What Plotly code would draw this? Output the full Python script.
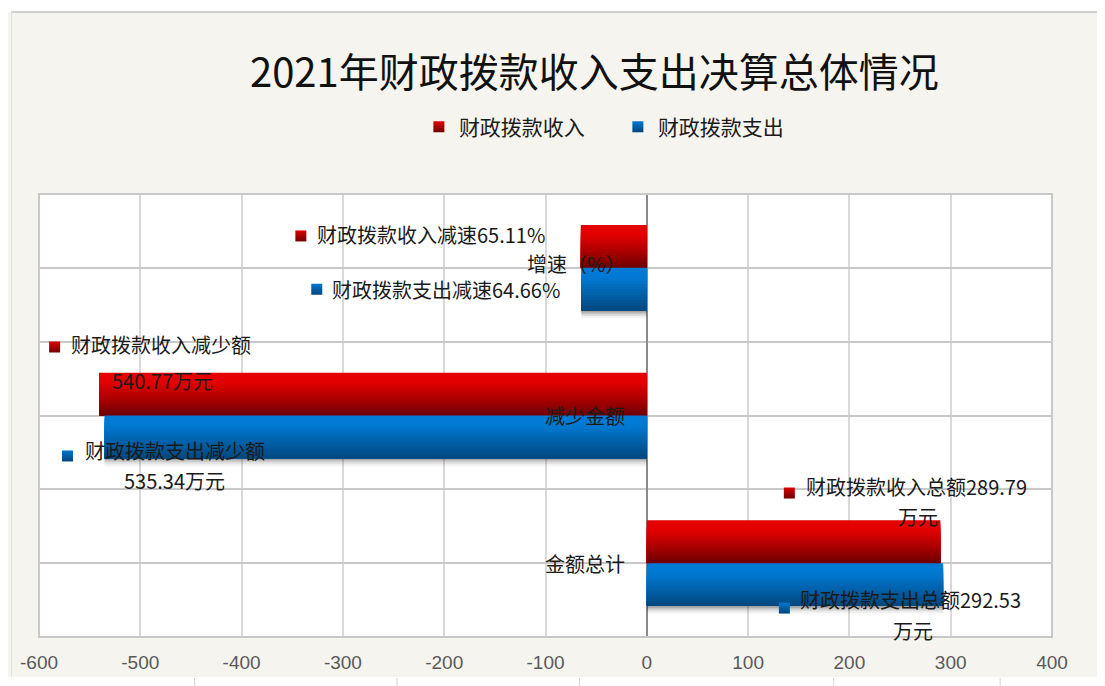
import plotly.graph_objects as go
import numpy as np

# ---------------- data ----------------
categories = ["金额总计", "减少金额", "增速（%）"]
income_values = [289.79, -540.77, -65.11]     # 财政拨款收入
expense_values = [292.53, -535.34, -64.66]    # 财政拨款支出
series_names = ["财政拨款收入", "财政拨款支出"]
income_labels = ["财政拨款收入总额289.79<br>万元", "财政拨款收入减少额<br>540.77万元", "财政拨款收入减速65.11%"]
expense_labels = ["财政拨款支出总额292.53<br>万元", "财政拨款支出减少额<br>535.34万元", "财政拨款支出减速64.66%"]
x_ticks = [-600, -500, -400, -300, -200, -100, 0, 100, 200, 300, 400]
title_text = "2021年财政拨款收入支出决算总体情况"

# ---------------- style ----------------
W, H = 1105, 686
PL, PR, PT, PB = 28, 1044, 186, 629        # plot area in figure pixels
ML, MR, MT, MB = PL, W - PR, PT, H - PB
PW, PH = PR - PL, PB - PT
BAR_H = 0.29
NSL = 16
FONT_CJK = "Noto Sans CJK SC"
BG = "#f5f4ee"

red_top, red_bot = np.array([228, 0, 0]), np.array([110, 0, 0])
blue_top, blue_bot = np.array([0, 122, 212]), np.array([0, 70, 124])

ypos = list(range(len(categories)))


def px_x(fx):
    return (fx - PL) / PW


def px_y(fy):
    return (PB - fy) / PH


def mix(c1, c2, t):
    c = c1 + (c2 - c1) * t
    return "rgb(%d,%d,%d)" % tuple(int(round(v)) for v in c)


def grad_t(k):
    return min(1.0, max(0.0, (k - 0.2) / 0.8)) ** 1.1


fig = go.Figure()

# soft shadow under the blue bars
for i, a in enumerate([0.20, 0.14, 0.09, 0.05, 0.025]):
    fig.add_trace(go.Bar(
        y=ypos, x=expense_values, orientation="h",
        offset=-BAR_H - 0.012 * (i + 1), width=0.012 * (i + 1) + 0.01,
        marker=dict(color="rgba(0,0,0,%.3f)" % (a * 0.8), line=dict(width=0)),
        showlegend=False, hoverinfo="skip"))

# gradient bars: cumulative slices (each from the bar's bottom edge up)
dh = BAR_H / NSL
for s, (vals, ctop, cbot, base_off) in enumerate([
        (income_values, red_top, red_bot, 0.0),
        (expense_values, blue_top, blue_bot, -BAR_H)]):
    for k in range(NSL):
        top = base_off + BAR_H - k * dh
        col = mix(ctop, cbot, grad_t((k + 0.5) / NSL))
        fig.add_trace(go.Bar(
            y=ypos, x=vals, orientation="h",
            offset=base_off, width=top - base_off,
            marker=dict(color=col, line=dict(width=0)),
            name=series_names[s], showlegend=False,
            hovertemplate="%{x}<extra>" + series_names[s] + "</extra>"))

# legend entries
for s, (ctop, cbot) in enumerate([(red_top, red_bot), (blue_top, blue_bot)]):
    fig.add_trace(go.Scatter(
        x=[None], y=[None], mode="markers", name=series_names[s],
        marker=dict(symbol="square", size=11, color=mix(ctop, cbot, 0),
                    gradient=dict(type="vertical", color=mix(ctop, cbot, 1)),
                    line=dict(width=0))))

# label placement (data units): marker, first line (left anchored), second line (centred)
label_layout = {
    "income": [
        dict(mx=140.7, my=0.475, l1=(155.5, 0.516), l2=(267.7, 0.319)),
        dict(mx=-584.6, my=1.464, l1=(-569.9, 1.484), l2=(-478.3, 1.234)),
        dict(mx=-341.5, my=2.216, l1=(-327.8, 2.229), l2=None),
    ],
    "expense": [
        dict(mx=135.8, my=-0.304, l1=(149.6, -0.249), l2=(262.8, -0.453)),
        dict(mx=-571.9, my=0.726, l1=(-556.1, 0.766), l2=(-466.3, 0.563)),
        dict(mx=-325.8, my=1.855, l1=(-313.0, 1.855), l2=None),
    ],
}
LABEL_FONT = dict(family=FONT_CJK, size=20, color="#1a1a1a")

annotations = []
for key, labels, ctop, cbot in [("income", income_labels, red_top, red_bot),
                                ("expense", expense_labels, blue_top, blue_bot)]:
    lay = label_layout[key]
    fig.add_trace(go.Scatter(
        x=[d["mx"] for d in lay], y=[d["my"] for d in lay], mode="markers",
        marker=dict(symbol="square", size=11, color=mix(ctop, cbot, 0.05),
                    gradient=dict(type="vertical", color=mix(ctop, cbot, 1)),
                    line=dict(width=0)),
        showlegend=False, hoverinfo="skip"))
    for d, txt in zip(lay, labels):
        parts = txt.split("<br>")
        annotations.append(dict(
            x=d["l1"][0], y=d["l1"][1], xref="x", yref="y", text=parts[0],
            showarrow=False, xanchor="left", yanchor="middle", font=LABEL_FONT))
        if len(parts) > 1 and d["l2"] is not None:
            annotations.append(dict(
                x=d["l2"][0], y=d["l2"][1], xref="x", yref="y", text=parts[1],
                showarrow=False, xanchor="center", yanchor="middle", font=LABEL_FONT))

# category labels next to the zero line
for yy, cat in zip(ypos, categories):
    annotations.append(dict(
        x=0, y=yy, xref="x", yref="y", text=cat, showarrow=False,
        xanchor="right", yanchor="middle", xshift=-20,
        yshift=4 if cat.startswith("增速") else 0, font=LABEL_FONT))

# decorative frame pieces
shapes = [
    dict(type="rect", xref="paper", yref="paper", x0=-0.1, x1=1.2,
         y0=px_y(4), y1=1.6, fillcolor="white", line=dict(width=0), layer="below"),
    dict(type="rect", xref="paper", yref="paper", x0=-0.1, x1=1.2,
         y0=-0.3, y1=px_y(669), fillcolor="white", line=dict(width=0), layer="below"),
    dict(type="line", xref="paper", yref="paper", x0=px_x(0), x1=1.2,
         y0=px_y(4), y1=px_y(4), line=dict(color="#d0d0d0", width=2)),
    dict(type="line", xref="paper", yref="paper", x0=px_x(0.5), x1=px_x(0.5),
         y0=px_y(669), y1=px_y(4), line=dict(color="#e0e0e0", width=1)),
]
for fx in [184, 387, 570, 825, 992]:
    shapes.append(dict(type="line", xref="paper", yref="paper",
                       x0=px_x(fx), x1=px_x(fx), y0=px_y(680), y1=px_y(670),
                       line=dict(color="#d4d4d4", width=1)))
shapes.append(dict(type="rect", xref="paper", yref="paper", x0=0, x1=1, y0=0, y1=1,
                   line=dict(color="#c8c8c8", width=2), layer="above"))

fig.update_layout(
    width=W, height=H,
    margin=dict(l=ML, r=MR, t=MT, b=MB, pad=0),
    paper_bgcolor=BG, plot_bgcolor="white",
    barmode="overlay",
    title=dict(text=title_text, x=px_x(585), xref="paper", xanchor="center",
               y=1 - 65 / H, yanchor="middle",
               font=dict(family=FONT_CJK, size=40, color="#111111")),
    legend=dict(orientation="h", x=px_x(409), xref="paper", xanchor="left",
                y=1 - 119 / H, yref="container", yanchor="middle",
                font=dict(family=FONT_CJK, size=21, color="#1a1a1a"),
                bgcolor="rgba(0,0,0,0)", itemwidth=30, entrywidthmode="pixels",
                entrywidth=154),
    xaxis=dict(range=[-600, 400], tickvals=x_ticks, ticktext=[str(v) for v in x_ticks],
               showgrid=True, gridcolor="#d9d9d9", gridwidth=1.5,
               zeroline=True, zerolinecolor="#8a8a8a", zerolinewidth=1.5,
               showline=False, ticks="", ticklabelstandoff=12,
               tickfont=dict(family="Liberation Sans Narrow, Liberation Sans", size=19, color="#595959"),
               fixedrange=True),
    yaxis=dict(range=[-0.5, 2.5], tick0=-0.5, dtick=0.5, showticklabels=False,
               showgrid=True, gridcolor="#c8c8c8", gridwidth=2,
               zeroline=False, ticks="", fixedrange=True),
    annotations=annotations,
    shapes=shapes,
    showlegend=True,
)

fig.write_html("out.html")
